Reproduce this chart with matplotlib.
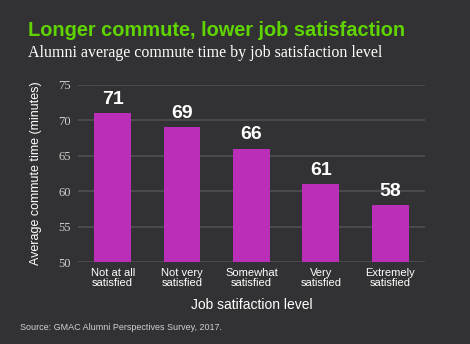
import matplotlib.pyplot as plt

categories = ["Not at all\nsatisfied", "Not very\nsatisfied", "Somewhat\nsatisfied",
              "Very\nsatisfied", "Extremely\nsatisfied"]
commute = [71, 69, 66, 61, 58]
yticks = [50, 55, 60, 65, 70, 75]

BG = "#323234"
BAR = "#bb2fb8"
GRID = "#505052"

fig = plt.figure(figsize=(4.7, 3.44), dpi=100, facecolor=BG)
ax = fig.add_axes([0.166, 0.238, 0.738, 0.515], facecolor=BG)

x = range(len(categories))
ax.bar(x, commute, width=0.53, color=BAR, zorder=3)
for xi, v in zip(x, commute):
    ax.text(xi, v + 0.8, str(v), ha="center", va="bottom", color="white",
            fontsize=14, fontweight="bold", family="Liberation Sans", zorder=4)

ax.set_xlim(-0.5, len(categories) - 0.5)
ax.set_ylim(50, 75)
ax.set_yticks(yticks)
ax.set_yticklabels([str(t) for t in yticks], family="Liberation Serif", fontsize=9, color="#cfcfcf")
ax.set_xticks(list(x))
ax.set_xticklabels(categories, family="Liberation Sans", fontsize=8, color="white", linespacing=1.1)
ax.tick_params(axis="both", length=0, pad=4)
ax.tick_params(axis="y", pad=5)
ax.grid(axis="y", color=GRID, linewidth=1.2, zorder=0)
for s in ax.spines.values():
    s.set_visible(False)

ax.set_ylabel("Average commute time (minutes)", family="Liberation Sans", fontsize=9,
              color="white", labelpad=12)
ax.set_xlabel("Job satifaction level", family="Liberation Sans", fontsize=10,
              color="white", labelpad=7)

fig.text(28 / 470, 1 - 36 / 344, "Longer commute, lower job satisfaction", color="#5fd400",
         fontsize=14.4, fontweight="bold", family="Liberation Sans", va="baseline")
fig.text(28 / 470, 1 - 57 / 344, "Alumni average commute time by job satisfaction level",
         color="white", fontsize=11.5, family="Liberation Serif", va="baseline")
fig.text(20 / 470, 1 - 330 / 344, "Source: GMAC Alumni Perspectives Survey, 2017.",
         color="#d0d0d0", fontsize=6.5, family="Liberation Sans", va="baseline")

fig.savefig("out.png", dpi=100, facecolor=BG)
